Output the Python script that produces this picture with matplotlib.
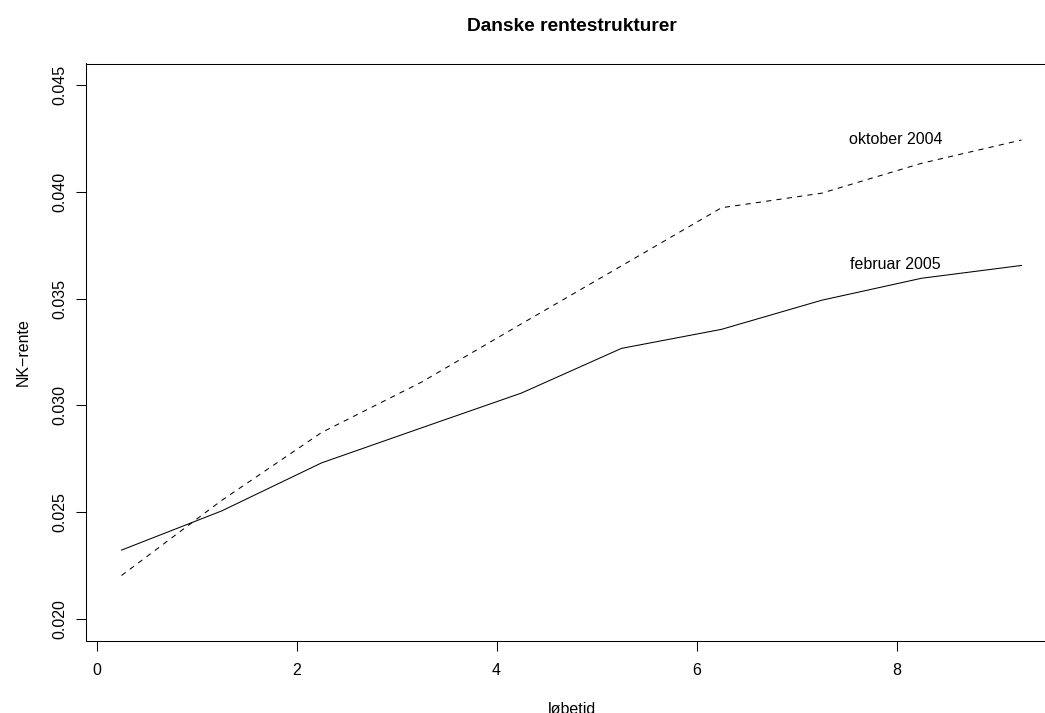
import matplotlib
matplotlib.use("Agg")
import matplotlib.pyplot as plt

# loebetid (years) and zero-coupon rates
loebetid = [0.25, 1.25, 2.25, 3.25, 4.25, 5.25, 6.25, 7.25, 8.25, 9.25]
feb2005 = [0.02323, 0.02506, 0.02731, 0.02895, 0.03058, 0.03267, 0.03356, 0.03492, 0.03595, 0.03655]
okt2004 = [0.02204, 0.02555, 0.02873, 0.03109, 0.03382, 0.03653, 0.03925, 0.03993, 0.04133, 0.04242]

x_ticks = [0, 2, 4, 6, 8]
y_ticks = [0.020, 0.025, 0.030, 0.035, 0.040, 0.045]

plt.rcParams["font.family"] = ["Liberation Sans", "DejaVu Sans"]
fs = 11.5   # ~16 px at 100 dpi

fig = plt.figure(figsize=(10.45, 7.13), dpi=100)
# axes deliberately runs past the right edge, as in the reference
ax = fig.add_axes([85.5 / 1045, 72.5 / 713, 972 / 1045, 577 / 713])

ax.plot(loebetid, feb2005, color="black", lw=0.75, ls="-")
ax.plot(loebetid, okt2004, color="black", lw=0.75, ls=(0, (5, 5)))

ax.text(7.99, 0.04245, "oktober 2004", ha="center", va="center", fontsize=fs)
ax.text(7.99, 0.03658, "februar 2005", ha="center", va="center", fontsize=fs)

ax.set_xlim(-0.11, 9.61)
ax.set_ylim(0.019, 0.046)
ax.set_xticks(x_ticks)
ax.set_xticklabels([str(v) for v in x_ticks])
ax.set_yticks(y_ticks)
ax.set_yticklabels([f"{v:.3f}" for v in y_ticks], rotation=90, va="center")

ax.tick_params(direction="out", length=6.9, width=0.75, labelsize=fs, color="black")
ax.tick_params(axis="x", pad=9.4)
ax.tick_params(axis="y", pad=6.3)
for s in ax.spines.values():
    s.set_linewidth(0.75)

ax.set_xlabel("løbetid", fontsize=fs, va="top")
ax.xaxis.set_label_coords(0.5, -(702 - 640.5) / 577)
ax.set_ylabel("NK\u2212rente", fontsize=fs)
ax.yaxis.set_label_coords(-(85.5 - 31) / 972, 0.5)
fig.text(571.5 / 1045, 1 - 31 / 713, "Danske rentestrukturer", ha="center", va="baseline",
         fontsize=13.8, fontweight="bold")

fig.savefig("out.png", dpi=100)
